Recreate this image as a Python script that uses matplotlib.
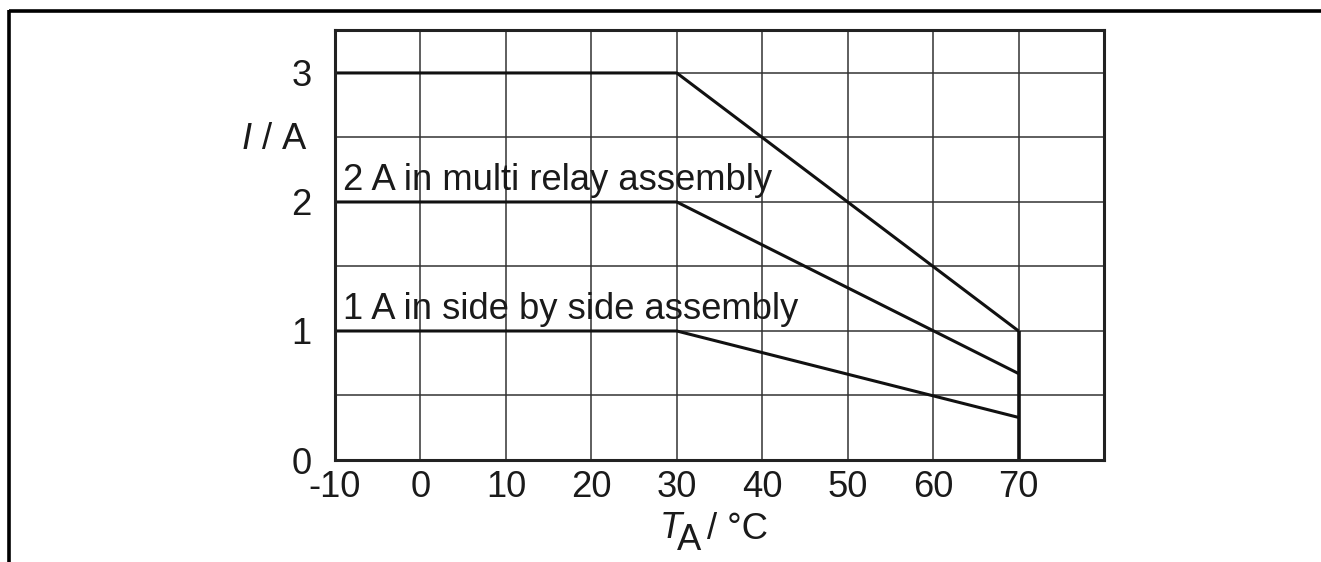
#!/usr/bin/env python3
"""Derating curve: load current vs. ambient temperature."""

import matplotlib

matplotlib.use("Agg")
import matplotlib.pyplot as plt  # noqa: E402
from matplotlib.lines import Line2D  # noqa: E402

W_PX, H_PX = 1321, 562

# break points of the derating curves (temperature in degC)
TEMPS = [-10, 30, 70]
CURRENT_SINGLE = [3, 3, 1]
CURRENT_MULTI = [2, 2, 0.67]
CURRENT_SIDE = [1, 1, 0.33]

# vertical cut-off at 70 degC
CUTOFF_T = [70, 70]
CUTOFF_I = [0, 1]

LABEL_MULTI = "2 A in multi relay assembly"
LABEL_SIDE = "1 A in side by side assembly"
LABEL_POS = {LABEL_MULTI: (-9.1, 2.09), LABEL_SIDE: (-9.1, 1.09)}

X_TICKS = [-10, 0, 10, 20, 30, 40, 50, 60, 70]
X_GRID = list(range(-10, 81, 10))
Y_TICKS = [0, 1, 2, 3]
Y_GRID = [0, 0.5, 1, 1.5, 2, 2.5, 3]

FS = 26.2
INK = "#1a1a1a"


def fx(px):
    return px / W_PX


def fy(py):
    return 1 - py / H_PX


def main():
    plt.rcParams.update(
        {
            "font.family": ["Liberation Sans", "DejaVu Sans"],
            "mathtext.fontset": "custom",
            "mathtext.rm": "Liberation Sans",
            "mathtext.it": "Liberation Sans:italic",
        }
    )
    fig = plt.figure(figsize=(W_PX / 100, H_PX / 100), dpi=100)
    ax = fig.add_axes([fx(335), fy(460), fx(1104) - fx(335), fy(30) - fy(460)])

    ax.set_xlim(-10, 80)
    ax.set_ylim(0, 3.333)

    for x in X_GRID:
        ax.axvline(x, color="#333333", linewidth=1.1, zorder=1)
    for y in Y_GRID:
        ax.axhline(y, color="#333333", linewidth=1.1, zorder=1)

    for ys in (CURRENT_SINGLE, CURRENT_MULTI, CURRENT_SIDE):
        ax.plot(TEMPS, ys, color="#111111", linewidth=2.2,
                solid_capstyle="butt", zorder=3)
    ax.plot(CUTOFF_T, CUTOFF_I, color="#111111", linewidth=2.6,
            solid_capstyle="butt", zorder=3)

    for text, (x, y) in LABEL_POS.items():
        ax.text(x, y, text, fontsize=FS, va="baseline", ha="left",
                color=INK, zorder=4)

    ax.set_xticks(X_TICKS)
    ax.set_xticklabels([str(t) for t in X_TICKS])
    ax.set_yticks(Y_TICKS)
    ax.set_yticklabels([str(t) for t in Y_TICKS])
    ax.tick_params(axis="x", length=0, pad=7, labelsize=FS, colors=INK)
    ax.tick_params(axis="y", length=0, pad=17, labelsize=FS, colors=INK)

    for spine in ax.spines.values():
        spine.set_linewidth(2.2)
        spine.set_color("#222222")
        spine.set_zorder(5)

    # axis titles
    fig.text(fx(308), fy(149), r"$I$ / A", fontsize=FS,
             ha="right", va="baseline", color=INK)
    fig.text(fx(660), fy(538), "T", fontsize=FS, fontstyle="italic",
             ha="left", va="baseline", color=INK)
    fig.text(fx(677), fy(550), "A", fontsize=FS,
             ha="left", va="baseline", color=INK)
    fig.text(fx(707), fy(539), "/ \u00b0C", fontsize=FS,
             ha="left", va="baseline", color=INK)

    # outer frame (top and left)
    fig.add_artist(Line2D([fx(9), fx(W_PX)], [fy(11), fy(11)],
                          color="black", linewidth=2.6,
                          solid_capstyle="butt"))
    fig.add_artist(Line2D([fx(9), fx(9)], [fy(9.5), fy(H_PX)],
                          color="black", linewidth=2.6,
                          solid_capstyle="butt"))

    fig.savefig("out.png", dpi=100)
    plt.close(fig)


if __name__ == "__main__":
    main()
